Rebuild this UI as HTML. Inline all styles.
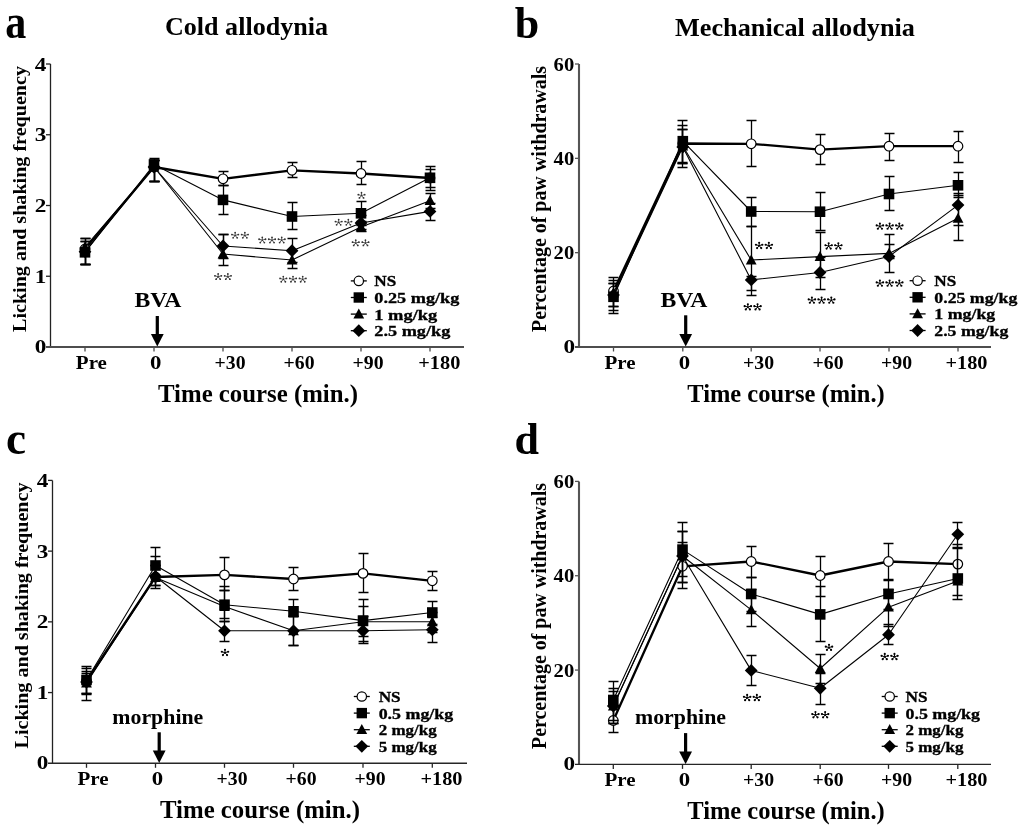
<!DOCTYPE html>
<html><head><meta charset="utf-8"><style>
html,body{margin:0;padding:0;background:#fff;}
svg{display:block;font-family:"Liberation Serif",serif;filter:grayscale(1);}
</style></head><body>
<svg width="1024" height="833" viewBox="0 0 1024 833">
<defs><g id="ast"><path d="M0,0.2 L0,-2.6 M0,0.2 L-3.1,-0.8 M0,0.2 L3.1,-0.8 M0,0.2 L-1.9,2.4 M0,0.2 L1.9,2.4" stroke="#000" stroke-width="1" stroke-linecap="round" fill="none"/><circle cx="0" cy="-2.7" r="1.05"/><circle cx="-3.2" cy="-0.75" r="1.1"/><circle cx="3.2" cy="-0.75" r="1.1"/><circle cx="-2.05" cy="2.55" r="1.1"/><circle cx="2.05" cy="2.55" r="1.1"/></g><g id="astl" fill="#333"><path d="M0,0.2 L0,-2.6 M0,0.2 L-3.1,-0.8 M0,0.2 L3.1,-0.8 M0,0.2 L-1.9,2.4 M0,0.2 L1.9,2.4" stroke="#333" stroke-width="0.8" stroke-linecap="round" fill="none"/><circle cx="0" cy="-2.7" r="0.85"/><circle cx="-3.2" cy="-0.75" r="0.9"/><circle cx="3.2" cy="-0.75" r="0.9"/><circle cx="-2.05" cy="2.55" r="0.9"/><circle cx="2.05" cy="2.55" r="0.9"/></g></defs>
<rect width="1024" height="833" fill="#fff"/>
<text x="5.215999999999999" y="37.8" font-size="49.5" text-anchor="start" font-weight="bold" fill="#000" transform="translate(5.215999999999999 37.8) scale(0.85 1) translate(-5.215999999999999 -37.8)" >a</text>
<text x="246.5" y="35.2" font-size="26" text-anchor="middle" font-weight="bold" fill="#000" textLength="163" lengthAdjust="spacingAndGlyphs" >Cold allodynia</text>
<text x="26" y="332" font-size="19" text-anchor="start" font-weight="bold" fill="#000" textLength="266" lengthAdjust="spacingAndGlyphs" transform="rotate(-90 26 332)" >Licking and shaking frequency</text>
<path d="M50.5,64 V347" fill="none" stroke="#222" stroke-width="1.3"/>
<path d="M46,347 H464" fill="none" stroke="#4d4d4d" stroke-width="2.0"/>
<text x="46.4" y="352.7" font-size="19" text-anchor="end" font-weight="bold" fill="#000" textLength="11.6" lengthAdjust="spacingAndGlyphs" >0</text>
<line x1="46" y1="276.25" x2="50.5" y2="276.25" stroke="#222" stroke-width="1.3"/>
<text x="46.4" y="282.85" font-size="19" text-anchor="end" font-weight="bold" fill="#000" textLength="11.6" lengthAdjust="spacingAndGlyphs" >1</text>
<line x1="46" y1="205.5" x2="50.5" y2="205.5" stroke="#222" stroke-width="1.3"/>
<text x="46.4" y="212.1" font-size="19" text-anchor="end" font-weight="bold" fill="#000" textLength="11.6" lengthAdjust="spacingAndGlyphs" >2</text>
<line x1="46" y1="134.75" x2="50.5" y2="134.75" stroke="#222" stroke-width="1.3"/>
<text x="46.4" y="141.35" font-size="19" text-anchor="end" font-weight="bold" fill="#000" textLength="11.6" lengthAdjust="spacingAndGlyphs" >3</text>
<line x1="46" y1="64.0" x2="50.5" y2="64.0" stroke="#222" stroke-width="1.3"/>
<text x="46.4" y="70.6" font-size="19" text-anchor="end" font-weight="bold" fill="#000" textLength="11.6" lengthAdjust="spacingAndGlyphs" >4</text>
<line x1="85" y1="347" x2="85" y2="351.5" stroke="#4d4d4d" stroke-width="1.3"/>
<line x1="154" y1="347" x2="154" y2="351.5" stroke="#4d4d4d" stroke-width="1.3"/>
<line x1="223" y1="347" x2="223" y2="351.5" stroke="#4d4d4d" stroke-width="1.3"/>
<line x1="292" y1="347" x2="292" y2="351.5" stroke="#4d4d4d" stroke-width="1.3"/>
<line x1="361" y1="347" x2="361" y2="351.5" stroke="#4d4d4d" stroke-width="1.3"/>
<line x1="430" y1="347" x2="430" y2="351.5" stroke="#4d4d4d" stroke-width="1.3"/>
<text x="91.4" y="368.8" font-size="19" text-anchor="middle" font-weight="bold" fill="#000" textLength="31.1" lengthAdjust="spacingAndGlyphs" >Pre</text>
<text x="155.6" y="368.8" font-size="19" text-anchor="middle" font-weight="bold" fill="#000" textLength="11.4" lengthAdjust="spacingAndGlyphs" >0</text>
<text x="230" y="368.8" font-size="19" text-anchor="middle" font-weight="bold" fill="#000" textLength="31.0" lengthAdjust="spacingAndGlyphs" >+30</text>
<text x="299" y="368.8" font-size="19" text-anchor="middle" font-weight="bold" fill="#000" textLength="31.0" lengthAdjust="spacingAndGlyphs" >+60</text>
<text x="368" y="368.8" font-size="19" text-anchor="middle" font-weight="bold" fill="#000" textLength="31.0" lengthAdjust="spacingAndGlyphs" >+90</text>
<text x="439.3" y="368.8" font-size="19" text-anchor="middle" font-weight="bold" fill="#000" textLength="42.0" lengthAdjust="spacingAndGlyphs" >+180</text>
<text x="258" y="402" font-size="26" text-anchor="middle" font-weight="bold" fill="#000" textLength="200" lengthAdjust="spacingAndGlyphs" >Time course (min.)</text>
<rect x="155.70000000000002" y="316" width="3.2" height="19.0" fill="#000"/>
<polygon points="150.9,334.0 163.70000000000002,334.0 157.3,346.5" fill="#000"/>
<text x="158" y="307" font-size="22" text-anchor="middle" font-weight="bold" fill="#000" textLength="47" lengthAdjust="spacingAndGlyphs" >BVA</text>
<path d="M85.5,238.5 V264.5 M80.5,238.5 h10 M80.5,264.5 h10" stroke="#000" stroke-width="1.3" fill="none"/>
<path d="M154.5,160.5 V181.5 M149.5,160.5 h10 M149.5,181.5 h10" stroke="#000" stroke-width="1.3" fill="none"/>
<path d="M223.5,171.5 V185.5 M218.5,171.5 h10 M218.5,185.5 h10" stroke="#000" stroke-width="1.3" fill="none"/>
<path d="M292.5,162.5 V177.5 M287.5,162.5 h10 M287.5,177.5 h10" stroke="#000" stroke-width="1.3" fill="none"/>
<path d="M361.5,161.5 V184.5 M356.5,161.5 h10 M356.5,184.5 h10" stroke="#000" stroke-width="1.3" fill="none"/>
<path d="M430.5,169.5 V187.5 M425.5,169.5 h10 M425.5,187.5 h10" stroke="#000" stroke-width="1.3" fill="none"/>
<polyline points="85,249 154,167 223,178.8 292,170.3 361,173.5 430,178" fill="none" stroke="#000" stroke-width="2.3" stroke-linejoin="round"/>
<circle cx="85" cy="249" r="4.8" fill="#fff" stroke="#000" stroke-width="1.2"/>
<circle cx="154" cy="167" r="4.8" fill="#fff" stroke="#000" stroke-width="1.2"/>
<circle cx="223" cy="178.8" r="4.8" fill="#fff" stroke="#000" stroke-width="1.2"/>
<circle cx="292" cy="170.3" r="4.8" fill="#fff" stroke="#000" stroke-width="1.2"/>
<circle cx="361" cy="173.5" r="4.8" fill="#fff" stroke="#000" stroke-width="1.2"/>
<circle cx="430" cy="178" r="4.8" fill="#fff" stroke="#000" stroke-width="1.2"/>
<path d="M85.5,241.5 V264.5 M80.5,241.5 h10 M80.5,264.5 h10" stroke="#000" stroke-width="1.3" fill="none"/>
<path d="M154.5,158.5 V181.5 M149.5,158.5 h10 M149.5,181.5 h10" stroke="#000" stroke-width="1.3" fill="none"/>
<path d="M223.5,185.5 V214.5 M218.5,185.5 h10 M218.5,214.5 h10" stroke="#000" stroke-width="1.3" fill="none"/>
<path d="M292.5,202.5 V229.5 M287.5,202.5 h10 M287.5,229.5 h10" stroke="#000" stroke-width="1.3" fill="none"/>
<path d="M361.5,201.5 V225.5 M356.5,201.5 h10 M356.5,225.5 h10" stroke="#000" stroke-width="1.3" fill="none"/>
<path d="M430.5,166.5 V190.5 M425.5,166.5 h10 M425.5,190.5 h10" stroke="#000" stroke-width="1.3" fill="none"/>
<polyline points="85,252.3 154,164.5 223,199.9 292,216.5 361,213.3 430,177.8" fill="none" stroke="#000" stroke-width="1.1" stroke-linejoin="round"/>
<rect x="79.7" y="247.0" width="10.6" height="10.6" fill="#000"/>
<rect x="148.7" y="159.2" width="10.6" height="10.6" fill="#000"/>
<rect x="217.7" y="194.6" width="10.6" height="10.6" fill="#000"/>
<rect x="286.7" y="211.2" width="10.6" height="10.6" fill="#000"/>
<rect x="355.7" y="208.0" width="10.6" height="10.6" fill="#000"/>
<rect x="424.7" y="172.5" width="10.6" height="10.6" fill="#000"/>
<path d="M85.5,241.5 V264.5 M80.5,241.5 h10 M80.5,264.5 h10" stroke="#000" stroke-width="1.3" fill="none"/>
<path d="M154.5,160.5 V181.5 M149.5,160.5 h10 M149.5,181.5 h10" stroke="#000" stroke-width="1.3" fill="none"/>
<path d="M223.5,234.5 V265.5 M218.5,234.5 h10 M218.5,265.5 h10" stroke="#000" stroke-width="1.3" fill="none"/>
<path d="M292.5,250.5 V268.5 M287.5,250.5 h10 M287.5,268.5 h10" stroke="#000" stroke-width="1.3" fill="none"/>
<path d="M361.5,221.5 V229.5 M356.5,221.5 h10 M356.5,229.5 h10" stroke="#000" stroke-width="1.3" fill="none"/>
<path d="M430.5,193.5 V208.5 M425.5,193.5 h10 M425.5,208.5 h10" stroke="#000" stroke-width="1.3" fill="none"/>
<polyline points="85,247 154,167 223,254 292,260 361,227 430,200.7" fill="none" stroke="#000" stroke-width="1.1" stroke-linejoin="round"/>
<polygon points="85,241.4 90.4,251.4 79.6,251.4" fill="#000"/>
<polygon points="154,161.4 159.4,171.4 148.6,171.4" fill="#000"/>
<polygon points="223,248.4 228.4,258.4 217.6,258.4" fill="#000"/>
<polygon points="292,254.4 297.4,264.4 286.6,264.4" fill="#000"/>
<polygon points="361,221.4 366.4,231.4 355.6,231.4" fill="#000"/>
<polygon points="430,195.1 435.4,205.1 424.6,205.1" fill="#000"/>
<path d="M85.5,238.5 V264.5 M80.5,238.5 h10 M80.5,264.5 h10" stroke="#000" stroke-width="1.3" fill="none"/>
<path d="M154.5,160.5 V181.5 M149.5,160.5 h10 M149.5,181.5 h10" stroke="#000" stroke-width="1.3" fill="none"/>
<path d="M223.5,234.5 V258.5 M218.5,234.5 h10 M218.5,258.5 h10" stroke="#000" stroke-width="1.3" fill="none"/>
<path d="M292.5,238.5 V262.5 M287.5,238.5 h10 M287.5,262.5 h10" stroke="#000" stroke-width="1.3" fill="none"/>
<path d="M361.5,215.5 V231.5 M356.5,215.5 h10 M356.5,231.5 h10" stroke="#000" stroke-width="1.3" fill="none"/>
<path d="M430.5,203.5 V220.5 M425.5,203.5 h10 M425.5,220.5 h10" stroke="#000" stroke-width="1.3" fill="none"/>
<polyline points="85,251.7 154,167 223,246 292,250.7 361,223 430,211.4" fill="none" stroke="#000" stroke-width="1.1" stroke-linejoin="round"/>
<polygon points="85,245.29999999999998 91.4,251.7 85,258.09999999999997 78.6,251.7" fill="#000"/>
<polygon points="154,160.6 160.4,167 154,173.4 147.6,167" fill="#000"/>
<polygon points="223,239.6 229.4,246 223,252.4 216.6,246" fill="#000"/>
<polygon points="292,244.29999999999998 298.4,250.7 292,257.09999999999997 285.6,250.7" fill="#000"/>
<polygon points="361,216.6 367.4,223 361,229.4 354.6,223" fill="#000"/>
<polygon points="430,205.0 436.4,211.4 430,217.8 423.6,211.4" fill="#000"/>
<use href="#astl" x="235.15" y="235.30"/>
<use href="#astl" x="244.85" y="235.30"/>
<use href="#astl" x="262.30" y="240.00"/>
<use href="#astl" x="272.00" y="240.00"/>
<use href="#astl" x="281.70" y="240.00"/>
<use href="#astl" x="218.15" y="276.60"/>
<use href="#astl" x="227.85" y="276.60"/>
<use href="#astl" x="283.30" y="279.20"/>
<use href="#astl" x="293.00" y="279.20"/>
<use href="#astl" x="302.70" y="279.20"/>
<use href="#astl" x="361.50" y="195.40"/>
<use href="#astl" x="338.65" y="222.30"/>
<use href="#astl" x="348.35" y="222.30"/>
<use href="#astl" x="355.75" y="242.90"/>
<use href="#astl" x="365.45" y="242.90"/>
<line x1="350.8" y1="280.9" x2="366.8" y2="280.9" stroke="#000" stroke-width="1.3"/>
<circle cx="358.8" cy="280.9" r="4.7" fill="#fff" stroke="#000" stroke-width="1.2"/>
<text x="374.3" y="286.29999999999995" font-size="14.5" text-anchor="start" font-weight="bold" fill="#000" stroke="#000" stroke-width="0.3" textLength="22" lengthAdjust="spacingAndGlyphs" >NS</text>
<line x1="350.8" y1="297.5" x2="366.8" y2="297.5" stroke="#000" stroke-width="1.3"/>
<rect x="353.6" y="292.3" width="10.4" height="10.4" fill="#000"/>
<text x="374.3" y="302.9" font-size="14.5" text-anchor="start" font-weight="bold" fill="#000" stroke="#000" stroke-width="0.3" textLength="85" lengthAdjust="spacingAndGlyphs" >0.25 mg/kg</text>
<line x1="350.8" y1="314.09999999999997" x2="366.8" y2="314.09999999999997" stroke="#000" stroke-width="1.3"/>
<polygon points="358.8,308.49999999999994 364.2,318.49999999999994 353.40000000000003,318.49999999999994" fill="#000"/>
<text x="374.3" y="319.49999999999994" font-size="14.5" text-anchor="start" font-weight="bold" fill="#000" stroke="#000" stroke-width="0.3" textLength="63" lengthAdjust="spacingAndGlyphs" >1 mg/kg</text>
<line x1="350.8" y1="330.7" x2="366.8" y2="330.7" stroke="#000" stroke-width="1.3"/>
<polygon points="358.8,324.3 365.2,330.7 358.8,337.09999999999997 352.40000000000003,330.7" fill="#000"/>
<text x="374.3" y="336.09999999999997" font-size="14.5" text-anchor="start" font-weight="bold" fill="#000" stroke="#000" stroke-width="0.3" textLength="76" lengthAdjust="spacingAndGlyphs" >2.5 mg/kg</text>
<text x="514.728" y="38.3" font-size="44" text-anchor="start" font-weight="bold" fill="#000" >b</text>
<text x="795" y="35.8" font-size="26" text-anchor="middle" font-weight="bold" fill="#000" textLength="240" lengthAdjust="spacingAndGlyphs" >Mechanical allodynia</text>
<text x="545.5" y="332" font-size="20" text-anchor="start" font-weight="bold" fill="#000" textLength="266" lengthAdjust="spacingAndGlyphs" transform="rotate(-90 545.5 332)" >Percentage of paw withdrawals</text>
<path d="M579,64 V347" fill="none" stroke="#555" stroke-width="2.1"/>
<path d="M575,347 H991" fill="none" stroke="#4d4d4d" stroke-width="2.0"/>
<text x="575.0" y="352.7" font-size="19" text-anchor="end" font-weight="bold" fill="#000" textLength="11.6" lengthAdjust="spacingAndGlyphs" >0</text>
<line x1="575" y1="252.66666666666669" x2="579" y2="252.66666666666669" stroke="#555" stroke-width="1.3"/>
<text x="574.2" y="259.2666666666667" font-size="19" text-anchor="end" font-weight="bold" fill="#000" textLength="20.6" lengthAdjust="spacingAndGlyphs" >20</text>
<line x1="575" y1="158.33333333333334" x2="579" y2="158.33333333333334" stroke="#555" stroke-width="1.3"/>
<text x="574.2" y="164.93333333333334" font-size="19" text-anchor="end" font-weight="bold" fill="#000" textLength="20.6" lengthAdjust="spacingAndGlyphs" >40</text>
<line x1="575" y1="64.0" x2="579" y2="64.0" stroke="#555" stroke-width="1.3"/>
<text x="574.2" y="70.6" font-size="19" text-anchor="end" font-weight="bold" fill="#000" textLength="20.6" lengthAdjust="spacingAndGlyphs" >60</text>
<line x1="613.5" y1="347" x2="613.5" y2="351.5" stroke="#4d4d4d" stroke-width="1.3"/>
<line x1="682.8" y1="347" x2="682.8" y2="351.5" stroke="#4d4d4d" stroke-width="1.3"/>
<line x1="751.2" y1="347" x2="751.2" y2="351.5" stroke="#4d4d4d" stroke-width="1.3"/>
<line x1="820" y1="347" x2="820" y2="351.5" stroke="#4d4d4d" stroke-width="1.3"/>
<line x1="889" y1="347" x2="889" y2="351.5" stroke="#4d4d4d" stroke-width="1.3"/>
<line x1="958" y1="347" x2="958" y2="351.5" stroke="#4d4d4d" stroke-width="1.3"/>
<text x="620" y="368.8" font-size="19" text-anchor="middle" font-weight="bold" fill="#000" textLength="31.1" lengthAdjust="spacingAndGlyphs" >Pre</text>
<text x="684.5" y="368.8" font-size="19" text-anchor="middle" font-weight="bold" fill="#000" textLength="11.4" lengthAdjust="spacingAndGlyphs" >0</text>
<text x="758.5" y="368.8" font-size="19" text-anchor="middle" font-weight="bold" fill="#000" textLength="31.0" lengthAdjust="spacingAndGlyphs" >+30</text>
<text x="828" y="368.8" font-size="19" text-anchor="middle" font-weight="bold" fill="#000" textLength="31.0" lengthAdjust="spacingAndGlyphs" >+60</text>
<text x="896.5" y="368.8" font-size="19" text-anchor="middle" font-weight="bold" fill="#000" textLength="31.0" lengthAdjust="spacingAndGlyphs" >+90</text>
<text x="966.5" y="368.8" font-size="19" text-anchor="middle" font-weight="bold" fill="#000" textLength="42.0" lengthAdjust="spacingAndGlyphs" >+180</text>
<text x="786" y="402" font-size="26" text-anchor="middle" font-weight="bold" fill="#000" textLength="197.5" lengthAdjust="spacingAndGlyphs" >Time course (min.)</text>
<rect x="684.1" y="315.3" width="3.2" height="19.599999999999966" fill="#000"/>
<polygon points="679.3000000000001,333.9 692.1,333.9 685.7,346.4" fill="#000"/>
<text x="684" y="307.1" font-size="22" text-anchor="middle" font-weight="bold" fill="#000" textLength="47" lengthAdjust="spacingAndGlyphs" >BVA</text>
<path d="M613.5,277.5 V306.5 M608.5,277.5 h10 M608.5,306.5 h10" stroke="#000" stroke-width="1.3" fill="none"/>
<path d="M682.5,120.5 V167.5 M677.5,120.5 h10 M677.5,167.5 h10" stroke="#000" stroke-width="1.3" fill="none"/>
<path d="M751.5,120.5 V166.5 M746.5,120.5 h10 M746.5,166.5 h10" stroke="#000" stroke-width="1.3" fill="none"/>
<path d="M820.5,134.5 V164.5 M815.5,134.5 h10 M815.5,164.5 h10" stroke="#000" stroke-width="1.3" fill="none"/>
<path d="M889.5,133.5 V160.5 M884.5,133.5 h10 M884.5,160.5 h10" stroke="#000" stroke-width="1.3" fill="none"/>
<path d="M958.5,131.5 V162.5 M953.5,131.5 h10 M953.5,162.5 h10" stroke="#000" stroke-width="1.3" fill="none"/>
<polyline points="613.5,291 682.8,143.5 751.2,143.8 820,149.6 889,146.2 958,146.2" fill="none" stroke="#000" stroke-width="2.3" stroke-linejoin="round"/>
<circle cx="613.5" cy="291" r="4.8" fill="#fff" stroke="#000" stroke-width="1.2"/>
<circle cx="682.8" cy="143.5" r="4.8" fill="#fff" stroke="#000" stroke-width="1.2"/>
<circle cx="751.2" cy="143.8" r="4.8" fill="#fff" stroke="#000" stroke-width="1.2"/>
<circle cx="820" cy="149.6" r="4.8" fill="#fff" stroke="#000" stroke-width="1.2"/>
<circle cx="889" cy="146.2" r="4.8" fill="#fff" stroke="#000" stroke-width="1.2"/>
<circle cx="958" cy="146.2" r="4.8" fill="#fff" stroke="#000" stroke-width="1.2"/>
<path d="M613.5,283.5 V310.5 M608.5,283.5 h10 M608.5,310.5 h10" stroke="#000" stroke-width="1.3" fill="none"/>
<path d="M682.5,125.5 V162.5 M677.5,125.5 h10 M677.5,162.5 h10" stroke="#000" stroke-width="1.3" fill="none"/>
<path d="M751.5,197.5 V226.5 M746.5,197.5 h10 M746.5,226.5 h10" stroke="#000" stroke-width="1.3" fill="none"/>
<path d="M820.5,192.5 V230.5 M815.5,192.5 h10 M815.5,230.5 h10" stroke="#000" stroke-width="1.3" fill="none"/>
<path d="M889.5,176.5 V210.5 M884.5,176.5 h10 M884.5,210.5 h10" stroke="#000" stroke-width="1.3" fill="none"/>
<path d="M958.5,172.5 V197.5 M953.5,172.5 h10 M953.5,197.5 h10" stroke="#000" stroke-width="1.3" fill="none"/>
<polyline points="613.5,296.8 682.8,141.2 751.2,211.5 820,211.7 889,194 958,185.3" fill="none" stroke="#000" stroke-width="1.1" stroke-linejoin="round"/>
<rect x="608.2" y="291.5" width="10.6" height="10.6" fill="#000"/>
<rect x="677.5" y="135.89999999999998" width="10.6" height="10.6" fill="#000"/>
<rect x="745.9000000000001" y="206.2" width="10.6" height="10.6" fill="#000"/>
<rect x="814.7" y="206.39999999999998" width="10.6" height="10.6" fill="#000"/>
<rect x="883.7" y="188.7" width="10.6" height="10.6" fill="#000"/>
<rect x="952.7" y="180.0" width="10.6" height="10.6" fill="#000"/>
<path d="M613.5,280.5 V313.5 M608.5,280.5 h10 M608.5,313.5 h10" stroke="#000" stroke-width="1.3" fill="none"/>
<path d="M682.5,129.5 V163.5 M677.5,129.5 h10 M677.5,163.5 h10" stroke="#000" stroke-width="1.3" fill="none"/>
<path d="M751.5,226.5 V290.5 M746.5,226.5 h10 M746.5,290.5 h10" stroke="#000" stroke-width="1.3" fill="none"/>
<path d="M820.5,232.5 V277.5 M815.5,232.5 h10 M815.5,277.5 h10" stroke="#000" stroke-width="1.3" fill="none"/>
<path d="M889.5,244.5 V258.5 M884.5,244.5 h10 M884.5,258.5 h10" stroke="#000" stroke-width="1.3" fill="none"/>
<path d="M958.5,195.5 V240.5 M953.5,195.5 h10 M953.5,240.5 h10" stroke="#000" stroke-width="1.3" fill="none"/>
<polyline points="613.5,293 682.8,146 751.2,260 820,256.6 889,253.4 958,218.3" fill="none" stroke="#000" stroke-width="1.1" stroke-linejoin="round"/>
<polygon points="613.5,287.4 618.9,297.4 608.1,297.4" fill="#000"/>
<polygon points="682.8,140.4 688.1999999999999,150.4 677.4,150.4" fill="#000"/>
<polygon points="751.2,254.4 756.6,264.4 745.8000000000001,264.4" fill="#000"/>
<polygon points="820,251.00000000000003 825.4,261.0 814.6,261.0" fill="#000"/>
<polygon points="889,247.8 894.4,257.8 883.6,257.8" fill="#000"/>
<polygon points="958,212.70000000000002 963.4,222.70000000000002 952.6,222.70000000000002" fill="#000"/>
<path d="M613.5,283.5 V306.5 M608.5,283.5 h10 M608.5,306.5 h10" stroke="#000" stroke-width="1.3" fill="none"/>
<path d="M682.5,129.5 V163.5 M677.5,129.5 h10 M677.5,163.5 h10" stroke="#000" stroke-width="1.3" fill="none"/>
<path d="M751.5,276.5 V295.5 M746.5,276.5 h10 M746.5,295.5 h10" stroke="#000" stroke-width="1.3" fill="none"/>
<path d="M820.5,257.5 V289.5 M815.5,257.5 h10 M815.5,289.5 h10" stroke="#000" stroke-width="1.3" fill="none"/>
<path d="M889.5,234.5 V272.5 M884.5,234.5 h10 M884.5,272.5 h10" stroke="#000" stroke-width="1.3" fill="none"/>
<path d="M958.5,193.5 V225.5 M953.5,193.5 h10 M953.5,225.5 h10" stroke="#000" stroke-width="1.3" fill="none"/>
<polyline points="613.5,295 682.8,147 751.2,279.9 820,272.5 889,256.5 958,205.1" fill="none" stroke="#000" stroke-width="1.1" stroke-linejoin="round"/>
<polygon points="613.5,288.6 619.9,295 613.5,301.4 607.1,295" fill="#000"/>
<polygon points="682.8,140.6 689.1999999999999,147 682.8,153.4 676.4,147" fill="#000"/>
<polygon points="751.2,273.5 757.6,279.9 751.2,286.29999999999995 744.8000000000001,279.9" fill="#000"/>
<polygon points="820,266.1 826.4,272.5 820,278.9 813.6,272.5" fill="#000"/>
<polygon points="889,250.1 895.4,256.5 889,262.9 882.6,256.5" fill="#000"/>
<polygon points="958,198.7 964.4,205.1 958,211.5 951.6,205.1" fill="#000"/>
<use href="#ast" x="759.15" y="245.50"/>
<use href="#ast" x="768.85" y="245.50"/>
<use href="#ast" x="747.85" y="306.90"/>
<use href="#ast" x="757.55" y="306.90"/>
<use href="#ast" x="828.65" y="246.00"/>
<use href="#ast" x="838.35" y="246.00"/>
<use href="#ast" x="811.90" y="300.20"/>
<use href="#ast" x="821.60" y="300.20"/>
<use href="#ast" x="831.30" y="300.20"/>
<use href="#ast" x="879.90" y="226.20"/>
<use href="#ast" x="889.60" y="226.20"/>
<use href="#ast" x="899.30" y="226.20"/>
<use href="#ast" x="879.90" y="283.20"/>
<use href="#ast" x="889.60" y="283.20"/>
<use href="#ast" x="899.30" y="283.20"/>
<line x1="909.6" y1="280.7" x2="925.6" y2="280.7" stroke="#000" stroke-width="1.3"/>
<circle cx="917.6" cy="280.7" r="4.7" fill="#fff" stroke="#000" stroke-width="1.2"/>
<text x="934.3" y="286.09999999999997" font-size="14.5" text-anchor="start" font-weight="bold" fill="#000" stroke="#000" stroke-width="0.3" textLength="22" lengthAdjust="spacingAndGlyphs" >NS</text>
<line x1="909.6" y1="297.3" x2="925.6" y2="297.3" stroke="#000" stroke-width="1.3"/>
<rect x="912.4" y="292.1" width="10.4" height="10.4" fill="#000"/>
<text x="934.3" y="302.7" font-size="14.5" text-anchor="start" font-weight="bold" fill="#000" stroke="#000" stroke-width="0.3" textLength="83" lengthAdjust="spacingAndGlyphs" >0.25 mg/kg</text>
<line x1="909.6" y1="313.9" x2="925.6" y2="313.9" stroke="#000" stroke-width="1.3"/>
<polygon points="917.6,308.29999999999995 923.0,318.29999999999995 912.2,318.29999999999995" fill="#000"/>
<text x="934.3" y="319.29999999999995" font-size="14.5" text-anchor="start" font-weight="bold" fill="#000" stroke="#000" stroke-width="0.3" textLength="61" lengthAdjust="spacingAndGlyphs" >1 mg/kg</text>
<line x1="909.6" y1="330.5" x2="925.6" y2="330.5" stroke="#000" stroke-width="1.3"/>
<polygon points="917.6,324.1 924.0,330.5 917.6,336.9 911.2,330.5" fill="#000"/>
<text x="934.3" y="335.9" font-size="14.5" text-anchor="start" font-weight="bold" fill="#000" stroke="#000" stroke-width="0.3" textLength="74" lengthAdjust="spacingAndGlyphs" >2.5 mg/kg</text>
<text x="5.919" y="453.6" font-size="46.5" text-anchor="start" font-weight="bold" fill="#000" transform="translate(5.919 453.6) scale(0.97 1) translate(-5.919 -453.6)" >c</text>
<text x="27.5" y="748.5" font-size="19" text-anchor="start" font-weight="bold" fill="#000" textLength="266" lengthAdjust="spacingAndGlyphs" transform="rotate(-90 27.5 748.5)" >Licking and shaking frequency</text>
<path d="M52.5,480.4 V763.3" fill="none" stroke="#222" stroke-width="1.3"/>
<path d="M48,763.3 H467" fill="none" stroke="#262626" stroke-width="1.4"/>
<text x="48.4" y="769.0" font-size="19" text-anchor="end" font-weight="bold" fill="#000" textLength="11.6" lengthAdjust="spacingAndGlyphs" >0</text>
<line x1="48" y1="692.5749999999999" x2="52.5" y2="692.5749999999999" stroke="#222" stroke-width="1.3"/>
<text x="48.4" y="699.175" font-size="19" text-anchor="end" font-weight="bold" fill="#000" textLength="11.6" lengthAdjust="spacingAndGlyphs" >1</text>
<line x1="48" y1="621.8499999999999" x2="52.5" y2="621.8499999999999" stroke="#222" stroke-width="1.3"/>
<text x="48.4" y="628.4499999999999" font-size="19" text-anchor="end" font-weight="bold" fill="#000" textLength="11.6" lengthAdjust="spacingAndGlyphs" >2</text>
<line x1="48" y1="551.125" x2="52.5" y2="551.125" stroke="#222" stroke-width="1.3"/>
<text x="48.4" y="557.725" font-size="19" text-anchor="end" font-weight="bold" fill="#000" textLength="11.6" lengthAdjust="spacingAndGlyphs" >3</text>
<line x1="48" y1="480.4" x2="52.5" y2="480.4" stroke="#222" stroke-width="1.3"/>
<text x="48.4" y="487.0" font-size="19" text-anchor="end" font-weight="bold" fill="#000" textLength="11.6" lengthAdjust="spacingAndGlyphs" >4</text>
<line x1="86.5" y1="763.3" x2="86.5" y2="767.8" stroke="#262626" stroke-width="1.3"/>
<line x1="155.5" y1="763.3" x2="155.5" y2="767.8" stroke="#262626" stroke-width="1.3"/>
<line x1="224.5" y1="763.3" x2="224.5" y2="767.8" stroke="#262626" stroke-width="1.3"/>
<line x1="293.5" y1="763.3" x2="293.5" y2="767.8" stroke="#262626" stroke-width="1.3"/>
<line x1="363" y1="763.3" x2="363" y2="767.8" stroke="#262626" stroke-width="1.3"/>
<line x1="432.3" y1="763.3" x2="432.3" y2="767.8" stroke="#262626" stroke-width="1.3"/>
<text x="93" y="785.0999999999999" font-size="19" text-anchor="middle" font-weight="bold" fill="#000" textLength="31.1" lengthAdjust="spacingAndGlyphs" >Pre</text>
<text x="157.5" y="785.0999999999999" font-size="19" text-anchor="middle" font-weight="bold" fill="#000" textLength="11.4" lengthAdjust="spacingAndGlyphs" >0</text>
<text x="232" y="785.0999999999999" font-size="19" text-anchor="middle" font-weight="bold" fill="#000" textLength="31.0" lengthAdjust="spacingAndGlyphs" >+30</text>
<text x="301" y="785.0999999999999" font-size="19" text-anchor="middle" font-weight="bold" fill="#000" textLength="31.0" lengthAdjust="spacingAndGlyphs" >+60</text>
<text x="370" y="785.0999999999999" font-size="19" text-anchor="middle" font-weight="bold" fill="#000" textLength="31.0" lengthAdjust="spacingAndGlyphs" >+90</text>
<text x="441.5" y="785.0999999999999" font-size="19" text-anchor="middle" font-weight="bold" fill="#000" textLength="42.0" lengthAdjust="spacingAndGlyphs" >+180</text>
<text x="260" y="818.3" font-size="26" text-anchor="middle" font-weight="bold" fill="#000" textLength="200" lengthAdjust="spacingAndGlyphs" >Time course (min.)</text>
<rect x="157.6" y="732.3" width="3.2" height="19.200000000000045" fill="#000"/>
<polygon points="152.79999999999998,750.5 165.6,750.5 159.2,763" fill="#000"/>
<text x="157.8" y="724.1" font-size="21.6" text-anchor="middle" font-weight="bold" fill="#000" textLength="91" lengthAdjust="spacingAndGlyphs" >morphine</text>
<path d="M86.5,666.5 V693.5 M81.5,666.5 h10 M81.5,693.5 h10" stroke="#000" stroke-width="1.3" fill="none"/>
<path d="M155.5,547.5 V588.5 M150.5,547.5 h10 M150.5,588.5 h10" stroke="#000" stroke-width="1.3" fill="none"/>
<path d="M224.5,557.5 V590.5 M219.5,557.5 h10 M219.5,590.5 h10" stroke="#000" stroke-width="1.3" fill="none"/>
<path d="M293.5,567.5 V590.5 M288.5,567.5 h10 M288.5,590.5 h10" stroke="#000" stroke-width="1.3" fill="none"/>
<path d="M363.5,553.5 V592.5 M358.5,553.5 h10 M358.5,592.5 h10" stroke="#000" stroke-width="1.3" fill="none"/>
<path d="M432.5,571.5 V590.5 M427.5,571.5 h10 M427.5,590.5 h10" stroke="#000" stroke-width="1.3" fill="none"/>
<polyline points="86.5,681 155.5,577 224.5,574.9 293.5,579 363,573.4 432.3,580.8" fill="none" stroke="#000" stroke-width="2.3" stroke-linejoin="round"/>
<circle cx="86.5" cy="681" r="4.8" fill="#fff" stroke="#000" stroke-width="1.2"/>
<circle cx="155.5" cy="577" r="4.8" fill="#fff" stroke="#000" stroke-width="1.2"/>
<circle cx="224.5" cy="574.9" r="4.8" fill="#fff" stroke="#000" stroke-width="1.2"/>
<circle cx="293.5" cy="579" r="4.8" fill="#fff" stroke="#000" stroke-width="1.2"/>
<circle cx="363" cy="573.4" r="4.8" fill="#fff" stroke="#000" stroke-width="1.2"/>
<circle cx="432.3" cy="580.8" r="4.8" fill="#fff" stroke="#000" stroke-width="1.2"/>
<path d="M86.5,668.5 V694.5 M81.5,668.5 h10 M81.5,694.5 h10" stroke="#000" stroke-width="1.3" fill="none"/>
<path d="M155.5,556.5 V575.5 M150.5,556.5 h10 M150.5,575.5 h10" stroke="#000" stroke-width="1.3" fill="none"/>
<path d="M224.5,586.5 V621.5 M219.5,586.5 h10 M219.5,621.5 h10" stroke="#000" stroke-width="1.3" fill="none"/>
<path d="M293.5,599.5 V616.5 M288.5,599.5 h10 M288.5,616.5 h10" stroke="#000" stroke-width="1.3" fill="none"/>
<path d="M363.5,599.5 V641.5 M358.5,599.5 h10 M358.5,641.5 h10" stroke="#000" stroke-width="1.3" fill="none"/>
<path d="M432.5,601.5 V624.5 M427.5,601.5 h10 M427.5,624.5 h10" stroke="#000" stroke-width="1.3" fill="none"/>
<polyline points="86.5,680 155.5,565.5 224.5,604.7 293.5,611.3 363,620.6 432.3,612.5" fill="none" stroke="#000" stroke-width="1.1" stroke-linejoin="round"/>
<rect x="81.2" y="674.7" width="10.6" height="10.6" fill="#000"/>
<rect x="150.2" y="560.2" width="10.6" height="10.6" fill="#000"/>
<rect x="219.2" y="599.4000000000001" width="10.6" height="10.6" fill="#000"/>
<rect x="288.2" y="606.0" width="10.6" height="10.6" fill="#000"/>
<rect x="357.7" y="615.3000000000001" width="10.6" height="10.6" fill="#000"/>
<rect x="427.0" y="607.2" width="10.6" height="10.6" fill="#000"/>
<path d="M86.5,671.5 V693.5 M81.5,671.5 h10 M81.5,693.5 h10" stroke="#000" stroke-width="1.3" fill="none"/>
<path d="M155.5,565.5 V585.5 M150.5,565.5 h10 M150.5,585.5 h10" stroke="#000" stroke-width="1.3" fill="none"/>
<path d="M224.5,590.5 V618.5 M219.5,590.5 h10 M219.5,618.5 h10" stroke="#000" stroke-width="1.3" fill="none"/>
<path d="M293.5,616.5 V645.5 M288.5,616.5 h10 M288.5,645.5 h10" stroke="#000" stroke-width="1.3" fill="none"/>
<path d="M363.5,606.5 V636.5 M358.5,606.5 h10 M358.5,636.5 h10" stroke="#000" stroke-width="1.3" fill="none"/>
<path d="M432.5,612.5 V632.5 M427.5,612.5 h10 M427.5,632.5 h10" stroke="#000" stroke-width="1.3" fill="none"/>
<polyline points="86.5,683 155.5,577.5 224.5,606.5 293.5,630.8 363,621.8 432.3,621.8" fill="none" stroke="#000" stroke-width="1.1" stroke-linejoin="round"/>
<polygon points="86.5,677.4 91.9,687.4 81.1,687.4" fill="#000"/>
<polygon points="155.5,571.9 160.9,581.9 150.1,581.9" fill="#000"/>
<polygon points="224.5,600.9 229.9,610.9 219.1,610.9" fill="#000"/>
<polygon points="293.5,625.1999999999999 298.9,635.1999999999999 288.1,635.1999999999999" fill="#000"/>
<polygon points="363,616.1999999999999 368.4,626.1999999999999 357.6,626.1999999999999" fill="#000"/>
<polygon points="432.3,616.1999999999999 437.7,626.1999999999999 426.90000000000003,626.1999999999999" fill="#000"/>
<path d="M86.5,673.5 V700.5 M81.5,673.5 h10 M81.5,700.5 h10" stroke="#000" stroke-width="1.3" fill="none"/>
<path d="M155.5,565.5 V585.5 M150.5,565.5 h10 M150.5,585.5 h10" stroke="#000" stroke-width="1.3" fill="none"/>
<path d="M224.5,621.5 V641.5 M219.5,621.5 h10 M219.5,641.5 h10" stroke="#000" stroke-width="1.3" fill="none"/>
<path d="M293.5,616.5 V645.5 M288.5,616.5 h10 M288.5,645.5 h10" stroke="#000" stroke-width="1.3" fill="none"/>
<path d="M363.5,616.5 V643.5 M358.5,616.5 h10 M358.5,643.5 h10" stroke="#000" stroke-width="1.3" fill="none"/>
<path d="M432.5,617.5 V642.5 M427.5,617.5 h10 M427.5,642.5 h10" stroke="#000" stroke-width="1.3" fill="none"/>
<polyline points="86.5,682 155.5,576.5 224.5,630.8 293.5,630.8 363,630.8 432.3,629.8" fill="none" stroke="#000" stroke-width="1.1" stroke-linejoin="round"/>
<polygon points="86.5,675.6 92.9,682 86.5,688.4 80.1,682" fill="#000"/>
<polygon points="155.5,570.1 161.9,576.5 155.5,582.9 149.1,576.5" fill="#000"/>
<polygon points="224.5,624.4 230.9,630.8 224.5,637.1999999999999 218.1,630.8" fill="#000"/>
<polygon points="293.5,624.4 299.9,630.8 293.5,637.1999999999999 287.1,630.8" fill="#000"/>
<polygon points="363,624.4 369.4,630.8 363,637.1999999999999 356.6,630.8" fill="#000"/>
<polygon points="432.3,623.4 438.7,629.8 432.3,636.1999999999999 425.90000000000003,629.8" fill="#000"/>
<use href="#ast" x="225.00" y="652.50"/>
<line x1="353.8" y1="696.5" x2="369.8" y2="696.5" stroke="#000" stroke-width="1.3"/>
<circle cx="361.8" cy="696.5" r="4.7" fill="#fff" stroke="#000" stroke-width="1.2"/>
<text x="378.7" y="701.9" font-size="14.5" text-anchor="start" font-weight="bold" fill="#000" stroke="#000" stroke-width="0.3" textLength="22" lengthAdjust="spacingAndGlyphs" >NS</text>
<line x1="353.8" y1="713.1" x2="369.8" y2="713.1" stroke="#000" stroke-width="1.3"/>
<rect x="356.6" y="707.9" width="10.4" height="10.4" fill="#000"/>
<text x="378.7" y="718.5" font-size="14.5" text-anchor="start" font-weight="bold" fill="#000" stroke="#000" stroke-width="0.3" textLength="74.5" lengthAdjust="spacingAndGlyphs" >0.5 mg/kg</text>
<line x1="353.8" y1="729.7" x2="369.8" y2="729.7" stroke="#000" stroke-width="1.3"/>
<polygon points="361.8,724.1 367.2,734.1 356.40000000000003,734.1" fill="#000"/>
<text x="378.7" y="735.1" font-size="14.5" text-anchor="start" font-weight="bold" fill="#000" stroke="#000" stroke-width="0.3" textLength="58" lengthAdjust="spacingAndGlyphs" >2 mg/kg</text>
<line x1="353.8" y1="746.3" x2="369.8" y2="746.3" stroke="#000" stroke-width="1.3"/>
<polygon points="361.8,739.9 368.2,746.3 361.8,752.6999999999999 355.40000000000003,746.3" fill="#000"/>
<text x="378.7" y="751.6999999999999" font-size="14.5" text-anchor="start" font-weight="bold" fill="#000" stroke="#000" stroke-width="0.3" textLength="58" lengthAdjust="spacingAndGlyphs" >5 mg/kg</text>
<text x="514.3960000000001" y="453.5" font-size="44" text-anchor="start" font-weight="bold" fill="#000" >d</text>
<text x="545.5" y="749" font-size="20" text-anchor="start" font-weight="bold" fill="#000" textLength="266" lengthAdjust="spacingAndGlyphs" transform="rotate(-90 545.5 749)" >Percentage of paw withdrawals</text>
<path d="M579,481.4 V764.4" fill="none" stroke="#555" stroke-width="2.1"/>
<path d="M575,764.4 H991" fill="none" stroke="#262626" stroke-width="1.4"/>
<text x="575.0" y="770.1" font-size="19" text-anchor="end" font-weight="bold" fill="#000" textLength="11.6" lengthAdjust="spacingAndGlyphs" >0</text>
<line x1="575" y1="670.0666666666666" x2="579" y2="670.0666666666666" stroke="#555" stroke-width="1.3"/>
<text x="574.2" y="676.6666666666666" font-size="19" text-anchor="end" font-weight="bold" fill="#000" textLength="20.6" lengthAdjust="spacingAndGlyphs" >20</text>
<line x1="575" y1="575.7333333333333" x2="579" y2="575.7333333333333" stroke="#555" stroke-width="1.3"/>
<text x="574.2" y="582.3333333333334" font-size="19" text-anchor="end" font-weight="bold" fill="#000" textLength="20.6" lengthAdjust="spacingAndGlyphs" >40</text>
<line x1="575" y1="481.4" x2="579" y2="481.4" stroke="#555" stroke-width="1.3"/>
<text x="574.2" y="488.0" font-size="19" text-anchor="end" font-weight="bold" fill="#000" textLength="20.6" lengthAdjust="spacingAndGlyphs" >60</text>
<line x1="613.3" y1="764.4" x2="613.3" y2="768.9" stroke="#262626" stroke-width="1.3"/>
<line x1="682.5" y1="764.4" x2="682.5" y2="768.9" stroke="#262626" stroke-width="1.3"/>
<line x1="751.2" y1="764.4" x2="751.2" y2="768.9" stroke="#262626" stroke-width="1.3"/>
<line x1="820.2" y1="764.4" x2="820.2" y2="768.9" stroke="#262626" stroke-width="1.3"/>
<line x1="888.5" y1="764.4" x2="888.5" y2="768.9" stroke="#262626" stroke-width="1.3"/>
<line x1="957.8" y1="764.4" x2="957.8" y2="768.9" stroke="#262626" stroke-width="1.3"/>
<text x="620" y="786.1999999999999" font-size="19" text-anchor="middle" font-weight="bold" fill="#000" textLength="31.1" lengthAdjust="spacingAndGlyphs" >Pre</text>
<text x="684.5" y="786.1999999999999" font-size="19" text-anchor="middle" font-weight="bold" fill="#000" textLength="11.4" lengthAdjust="spacingAndGlyphs" >0</text>
<text x="758.5" y="786.1999999999999" font-size="19" text-anchor="middle" font-weight="bold" fill="#000" textLength="31.0" lengthAdjust="spacingAndGlyphs" >+30</text>
<text x="828" y="786.1999999999999" font-size="19" text-anchor="middle" font-weight="bold" fill="#000" textLength="31.0" lengthAdjust="spacingAndGlyphs" >+60</text>
<text x="896.5" y="786.1999999999999" font-size="19" text-anchor="middle" font-weight="bold" fill="#000" textLength="31.0" lengthAdjust="spacingAndGlyphs" >+90</text>
<text x="966.5" y="786.1999999999999" font-size="19" text-anchor="middle" font-weight="bold" fill="#000" textLength="42.0" lengthAdjust="spacingAndGlyphs" >+180</text>
<text x="786" y="819.4" font-size="26" text-anchor="middle" font-weight="bold" fill="#000" textLength="197.5" lengthAdjust="spacingAndGlyphs" >Time course (min.)</text>
<rect x="684.0" y="733.1" width="3.2" height="19.5" fill="#000"/>
<polygon points="679.2,751.6 692.0,751.6 685.6,764.1" fill="#000"/>
<text x="680.5" y="724.3" font-size="21.6" text-anchor="middle" font-weight="bold" fill="#000" textLength="91" lengthAdjust="spacingAndGlyphs" >morphine</text>
<path d="M613.5,705.5 V732.5 M608.5,705.5 h10 M608.5,732.5 h10" stroke="#000" stroke-width="1.3" fill="none"/>
<path d="M682.5,542.5 V588.5 M677.5,542.5 h10 M677.5,588.5 h10" stroke="#000" stroke-width="1.3" fill="none"/>
<path d="M751.5,546.5 V577.5 M746.5,546.5 h10 M746.5,577.5 h10" stroke="#000" stroke-width="1.3" fill="none"/>
<path d="M820.5,556.5 V596.5 M815.5,556.5 h10 M815.5,596.5 h10" stroke="#000" stroke-width="1.3" fill="none"/>
<path d="M888.5,543.5 V580.5 M883.5,543.5 h10 M883.5,580.5 h10" stroke="#000" stroke-width="1.3" fill="none"/>
<polyline points="613.3,720.5 682.5,566.3 751.2,561.5 820.2,575.5 888.5,561.5 957.8,564.1" fill="none" stroke="#000" stroke-width="2.3" stroke-linejoin="round"/>
<circle cx="613.3" cy="720.5" r="4.8" fill="#fff" stroke="#000" stroke-width="1.2"/>
<circle cx="682.5" cy="566.3" r="4.8" fill="#fff" stroke="#000" stroke-width="1.2"/>
<circle cx="751.2" cy="561.5" r="4.8" fill="#fff" stroke="#000" stroke-width="1.2"/>
<circle cx="820.2" cy="575.5" r="4.8" fill="#fff" stroke="#000" stroke-width="1.2"/>
<circle cx="888.5" cy="561.5" r="4.8" fill="#fff" stroke="#000" stroke-width="1.2"/>
<circle cx="957.8" cy="564.1" r="4.8" fill="#fff" stroke="#000" stroke-width="1.2"/>
<path d="M613.5,681.5 V720.5 M608.5,681.5 h10 M608.5,720.5 h10" stroke="#000" stroke-width="1.3" fill="none"/>
<path d="M682.5,522.5 V576.5 M677.5,522.5 h10 M677.5,576.5 h10" stroke="#000" stroke-width="1.3" fill="none"/>
<path d="M751.5,577.5 V611.5 M746.5,577.5 h10 M746.5,611.5 h10" stroke="#000" stroke-width="1.3" fill="none"/>
<path d="M820.5,586.5 V641.5 M815.5,586.5 h10 M815.5,641.5 h10" stroke="#000" stroke-width="1.3" fill="none"/>
<path d="M888.5,579.5 V609.5 M883.5,579.5 h10 M883.5,609.5 h10" stroke="#000" stroke-width="1.3" fill="none"/>
<path d="M957.5,548.5 V595.5 M952.5,548.5 h10 M952.5,595.5 h10" stroke="#000" stroke-width="1.3" fill="none"/>
<polyline points="613.3,700 682.5,549.6 751.2,594 820.2,614.4 888.5,594 957.8,578.5" fill="none" stroke="#000" stroke-width="1.1" stroke-linejoin="round"/>
<rect x="608.0" y="694.7" width="10.6" height="10.6" fill="#000"/>
<rect x="677.2" y="544.3000000000001" width="10.6" height="10.6" fill="#000"/>
<rect x="745.9000000000001" y="588.7" width="10.6" height="10.6" fill="#000"/>
<rect x="814.9000000000001" y="609.1" width="10.6" height="10.6" fill="#000"/>
<rect x="883.2" y="588.7" width="10.6" height="10.6" fill="#000"/>
<rect x="952.5" y="573.2" width="10.6" height="10.6" fill="#000"/>
<path d="M613.5,688.5 V723.5 M608.5,688.5 h10 M608.5,723.5 h10" stroke="#000" stroke-width="1.3" fill="none"/>
<path d="M682.5,531.5 V582.5 M677.5,531.5 h10 M677.5,582.5 h10" stroke="#000" stroke-width="1.3" fill="none"/>
<path d="M751.5,589.5 V626.5 M746.5,589.5 h10 M746.5,626.5 h10" stroke="#000" stroke-width="1.3" fill="none"/>
<path d="M820.5,654.5 V683.5 M815.5,654.5 h10 M815.5,683.5 h10" stroke="#000" stroke-width="1.3" fill="none"/>
<path d="M888.5,589.5 V626.5 M883.5,589.5 h10 M883.5,626.5 h10" stroke="#000" stroke-width="1.3" fill="none"/>
<path d="M957.5,544.5 V599.5 M952.5,544.5 h10 M952.5,599.5 h10" stroke="#000" stroke-width="1.3" fill="none"/>
<polyline points="613.3,706 682.5,556 751.2,609.9 820.2,668.5 888.5,607.2 957.8,581" fill="none" stroke="#000" stroke-width="1.1" stroke-linejoin="round"/>
<polygon points="613.3,700.4 618.6999999999999,710.4 607.9,710.4" fill="#000"/>
<polygon points="682.5,550.4 687.9,560.4 677.1,560.4" fill="#000"/>
<polygon points="751.2,604.3 756.6,614.3 745.8000000000001,614.3" fill="#000"/>
<polygon points="820.2,662.9 825.6,672.9 814.8000000000001,672.9" fill="#000"/>
<polygon points="888.5,601.6 893.9,611.6 883.1,611.6" fill="#000"/>
<polygon points="957.8,575.4 963.1999999999999,585.4 952.4,585.4" fill="#000"/>
<path d="M613.5,691.5 V723.5 M608.5,691.5 h10 M608.5,723.5 h10" stroke="#000" stroke-width="1.3" fill="none"/>
<path d="M682.5,531.5 V582.5 M677.5,531.5 h10 M677.5,582.5 h10" stroke="#000" stroke-width="1.3" fill="none"/>
<path d="M751.5,655.5 V685.5 M746.5,655.5 h10 M746.5,685.5 h10" stroke="#000" stroke-width="1.3" fill="none"/>
<path d="M820.5,673.5 V704.5 M815.5,673.5 h10 M815.5,704.5 h10" stroke="#000" stroke-width="1.3" fill="none"/>
<path d="M888.5,624.5 V644.5 M883.5,624.5 h10 M883.5,644.5 h10" stroke="#000" stroke-width="1.3" fill="none"/>
<path d="M957.5,522.5 V547.5 M952.5,522.5 h10 M952.5,547.5 h10" stroke="#000" stroke-width="1.3" fill="none"/>
<polyline points="613.3,706 682.5,556 751.2,670.4 820.2,688.3 888.5,634.7 957.8,534.3" fill="none" stroke="#000" stroke-width="1.1" stroke-linejoin="round"/>
<polygon points="613.3,699.6 619.6999999999999,706 613.3,712.4 606.9,706" fill="#000"/>
<polygon points="682.5,549.6 688.9,556 682.5,562.4 676.1,556" fill="#000"/>
<polygon points="751.2,664.0 757.6,670.4 751.2,676.8 744.8000000000001,670.4" fill="#000"/>
<polygon points="820.2,681.9 826.6,688.3 820.2,694.6999999999999 813.8000000000001,688.3" fill="#000"/>
<polygon points="888.5,628.3000000000001 894.9,634.7 888.5,641.1 882.1,634.7" fill="#000"/>
<polygon points="957.8,527.9 964.1999999999999,534.3 957.8,540.6999999999999 951.4,534.3" fill="#000"/>
<use href="#ast" x="747.15" y="697.60"/>
<use href="#ast" x="756.85" y="697.60"/>
<use href="#ast" x="829.00" y="647.40"/>
<use href="#ast" x="815.45" y="714.80"/>
<use href="#ast" x="825.15" y="714.80"/>
<use href="#ast" x="884.75" y="656.60"/>
<use href="#ast" x="894.45" y="656.60"/>
<line x1="881.7" y1="696.5" x2="897.7" y2="696.5" stroke="#000" stroke-width="1.3"/>
<circle cx="889.7" cy="696.5" r="4.7" fill="#fff" stroke="#000" stroke-width="1.2"/>
<text x="905.5" y="701.9" font-size="14.5" text-anchor="start" font-weight="bold" fill="#000" stroke="#000" stroke-width="0.3" textLength="22" lengthAdjust="spacingAndGlyphs" >NS</text>
<line x1="881.7" y1="713.1" x2="897.7" y2="713.1" stroke="#000" stroke-width="1.3"/>
<rect x="884.5" y="707.9" width="10.4" height="10.4" fill="#000"/>
<text x="905.5" y="718.5" font-size="14.5" text-anchor="start" font-weight="bold" fill="#000" stroke="#000" stroke-width="0.3" textLength="74.5" lengthAdjust="spacingAndGlyphs" >0.5 mg/kg</text>
<line x1="881.7" y1="729.7" x2="897.7" y2="729.7" stroke="#000" stroke-width="1.3"/>
<polygon points="889.7,724.1 895.1,734.1 884.3000000000001,734.1" fill="#000"/>
<text x="905.5" y="735.1" font-size="14.5" text-anchor="start" font-weight="bold" fill="#000" stroke="#000" stroke-width="0.3" textLength="58" lengthAdjust="spacingAndGlyphs" >2 mg/kg</text>
<line x1="881.7" y1="746.3" x2="897.7" y2="746.3" stroke="#000" stroke-width="1.3"/>
<polygon points="889.7,739.9 896.1,746.3 889.7,752.6999999999999 883.3000000000001,746.3" fill="#000"/>
<text x="905.5" y="751.6999999999999" font-size="14.5" text-anchor="start" font-weight="bold" fill="#000" stroke="#000" stroke-width="0.3" textLength="58" lengthAdjust="spacingAndGlyphs" >5 mg/kg</text>
</svg></body></html>
